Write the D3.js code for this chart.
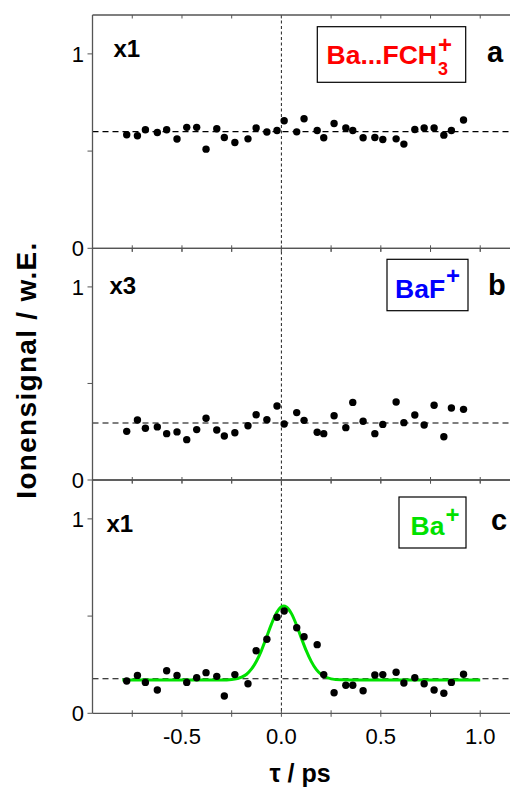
<!DOCTYPE html>
<html>
<head>
<meta charset="utf-8">
<script src="https://cdn.jsdelivr.net/npm/d3@7"></script>
<style>
  html, body { margin: 0; padding: 0; background: #fff; }
  svg { display: block; }
  text { font-family: "Liberation Sans", Arial, Helvetica, sans-serif; }
</style>
</head>
<body>
<svg id="chart" width="510" height="792"></svg>
<script>
// Pump-probe delay (ps), shared by all three ion channels
const tau = [-0.778, -0.724, -0.684, -0.624, -0.577, -0.525, -0.476, -0.426, -0.379, -0.325,
             -0.287, -0.234, -0.168, -0.127, -0.073, -0.022, 0.014, 0.077, 0.114, 0.180,
             0.213, 0.265, 0.324, 0.359, 0.411, 0.470, 0.510, 0.577, 0.616, 0.671,
             0.718, 0.768, 0.817, 0.855, 0.916];

// Ion signal, panel a: Ba...FCH3+ (x1)
const signalA = [0.584, 0.579, 0.610, 0.596, 0.610, 0.562, 0.622, 0.622, 0.510, 0.615,
                 0.570, 0.544, 0.563, 0.619, 0.598, 0.606, 0.656, 0.599, 0.666, 0.606,
                 0.569, 0.642, 0.619, 0.606, 0.569, 0.570, 0.560, 0.563, 0.536, 0.611,
                 0.619, 0.619, 0.582, 0.606, 0.660];

// Ion signal, panel b: BaF+ (x3)
const signalB = [0.252, 0.311, 0.268, 0.275, 0.240, 0.249, 0.209, 0.261, 0.320, 0.259,
                 0.228, 0.245, 0.281, 0.338, 0.312, 0.383, 0.290, 0.349, 0.309, 0.247,
                 0.240, 0.333, 0.271, 0.402, 0.304, 0.240, 0.288, 0.404, 0.297, 0.337,
                 0.285, 0.387, 0.224, 0.373, 0.366];

// Ion signal, panel c: Ba+ (x1)
const signalC = [0.166, 0.195, 0.159, 0.120, 0.219, 0.195, 0.159, 0.183, 0.209, 0.190,
                 0.089, 0.199, 0.152, 0.322, 0.381, 0.494, 0.526, 0.440, 0.394, 0.353,
                 0.199, 0.106, 0.144, 0.144, 0.116, 0.197, 0.199, 0.211, 0.156, 0.183,
                 0.152, 0.120, 0.103, 0.159, 0.201];

// Baseline levels (dashed lines)
const baselines = [0.6, 0.295, 0.178];

// Fitted Ba+ transient (panel c)
const fitTau = [-0.8, -0.4, -0.3, -0.25, -0.2, -0.175, -0.15, -0.125, -0.1, -0.075, -0.05, -0.025,
                0.0, 0.012, 0.025, 0.05, 0.075, 0.1, 0.125, 0.15, 0.175, 0.2, 0.25, 0.3, 0.4, 1.0];
const fitC   = [0.171, 0.171, 0.171, 0.174, 0.186, 0.201, 0.228, 0.269, 0.324, 0.391, 0.459, 0.516,
                0.548, 0.552, 0.547, 0.514, 0.457, 0.388, 0.322, 0.267, 0.226, 0.200, 0.177, 0.172, 0.171, 0.171];

// Axis ticks
const xTicks = [-0.75, -0.5, -0.25, 0, 0.25, 0.5, 0.75, 1.0, 1.25];
const xTickLabels = [-0.5, 0.0, 0.5, 1.0];
const yTicks = [0, 0.5, 1];
const yTickLabels = [0, 1];

// Panel annotations
const scaleFactors = ["x1", "x3", "x1"];
const panelLetters = ["a", "b", "c"];
const speciesMain = ["Ba...FCH", "BaF", "Ba"];
const speciesSub = ["3", "", ""];
const speciesColors = ["#ff0000", "#0000ff", "#00e100"];

const svg = d3.select("#chart");
const axisColor = "#555";

// plain hyphen for negative tick labels
const fmt = d3.formatLocale({ decimal: ".", thousands: ",", grouping: [3], currency: ["", ""], minus: "-" });

const x = d3.scaleLinear().domain([-0.95, 1.2]).range([92.5, 520]);

const panelBounds = [[15, 248.3], [248.3, 480], [480, 713.3]];
const yScales = panelBounds.map(([top, bottom]) =>
  d3.scaleLinear().domain([0, 1.2]).range([bottom, top]));

const seriesList = [signalA, signalB, signalC];

// Layout of per-panel texts
const factorPos = [[113.5, 56.5], [109.5, 294], [106.5, 531.5]];
const letterPos = [[487, 61.5], [488, 295], [491, 530]];
const boxRect = [[317.3, 26.7, 148.4, 55.6], [387, 259.3, 81, 51.4], [399, 497, 67, 51]];
const speciesPos = [[326.5, 64.3], [395, 298.3], [410.5, 535]];
const plusOffset = [-11, -14, -12.5];

const xLeft = x.range()[0];
const xRight = 510;

// Reference line at zero delay across all panels
svg.append("line")
  .attr("x1", x(0)).attr("x2", x(0))
  .attr("y1", panelBounds[0][0]).attr("y2", panelBounds[2][1])
  .attr("stroke", "#222").attr("stroke-width", 1)
  .attr("stroke-dasharray", "3,2.5");

panelBounds.forEach(([top, bottom], i) => {
  const y = yScales[i];
  const g = svg.append("g");

  // dashed baseline
  g.append("line")
    .attr("x1", xLeft).attr("x2", xRight)
    .attr("y1", y(baselines[i])).attr("y2", y(baselines[i]))
    .attr("stroke", "#000").attr("stroke-width", 1.1)
    .attr("stroke-dasharray", "6,4");

  // fit curve for the Ba+ channel
  if (i === 2) {
    const line = d3.line()
      .x((d, k) => x(fitTau[k]))
      .y(d => y(d))
      .curve(d3.curveMonotoneX);
    g.append("path")
      .attr("d", line(fitC))
      .attr("fill", "none")
      .attr("stroke", speciesColors[2])
      .attr("stroke-width", 3);
  }

  // data points
  g.selectAll("circle")
    .data(seriesList[i])
    .join("circle")
    .attr("cx", (d, k) => x(tau[k]))
    .attr("cy", d => y(d))
    .attr("r", 3.7)
    .attr("fill", "#000");

  // frame lines: top and bottom
  [top, bottom].forEach(yy => {
    g.append("line")
      .attr("x1", xLeft).attr("x2", xRight)
      .attr("y1", yy).attr("y2", yy)
      .attr("stroke", axisColor).attr("stroke-width", 1.3);
  });

  // x ticks on top (inward) and bottom edge
  xTicks.forEach(t => {
    g.append("line")
      .attr("x1", x(t)).attr("x2", x(t))
      .attr("y1", top).attr("y2", top + 3.5)
      .attr("stroke", axisColor).attr("stroke-width", 1);
    g.append("line")
      .attr("x1", x(t)).attr("x2", x(t))
      .attr("y1", bottom - 3).attr("y2", bottom + 3.5)
      .attr("stroke", axisColor).attr("stroke-width", 1);
  });

  // y ticks (outward)
  yTicks.forEach(v => {
    g.append("line")
      .attr("x1", xLeft - 5).attr("x2", xLeft)
      .attr("y1", y(v)).attr("y2", y(v))
      .attr("stroke", axisColor).attr("stroke-width", 1);
  });
  yTickLabels.forEach(v => {
    g.append("text")
      .attr("x", 84).attr("y", y(v))
      .attr("dy", "0.36em")
      .attr("text-anchor", "end")
      .attr("font-size", 22)
      .attr("fill", "#000")
      .text(fmt.format("d")(v));
  });

  // scale factor label
  g.append("text")
    .attr("x", factorPos[i][0]).attr("y", factorPos[i][1])
    .attr("font-size", 24).attr("font-weight", "bold")
    .text(scaleFactors[i]);

  // panel letter
  g.append("text")
    .attr("x", letterPos[i][0]).attr("y", letterPos[i][1])
    .attr("font-size", 29).attr("font-weight", "bold")
    .text(panelLetters[i]);

  // species box
  g.append("rect")
    .attr("x", boxRect[i][0]).attr("y", boxRect[i][1])
    .attr("width", boxRect[i][2]).attr("height", boxRect[i][3])
    .attr("fill", "#fff").attr("stroke", "#000").attr("stroke-width", 1.2);

  const main = g.append("text")
    .attr("x", speciesPos[i][0]).attr("y", speciesPos[i][1])
    .attr("font-size", 26.5).attr("font-weight", "bold")
    .attr("fill", speciesColors[i])
    .text(speciesMain[i]);
  const w = main.node().getComputedTextLength();
  const sx = speciesPos[i][0] + w + 1;
  if (speciesSub[i]) {
    g.append("text")
      .attr("x", sx).attr("y", speciesPos[i][1] + 11)
      .attr("font-size", 18).attr("font-weight", "bold")
      .attr("fill", speciesColors[i])
      .text(speciesSub[i]);
  }
  g.append("text")
    .attr("x", sx).attr("y", speciesPos[i][1] + plusOffset[i])
    .attr("font-size", 24).attr("font-weight", "bold")
    .attr("fill", speciesColors[i])
    .text("+");
});

// left axis line across all panels
svg.append("line")
  .attr("x1", xLeft).attr("x2", xLeft)
  .attr("y1", panelBounds[0][0]).attr("y2", panelBounds[2][1])
  .attr("stroke", axisColor).attr("stroke-width", 1.3);

// x tick labels under the bottom panel
xTickLabels.forEach(t => {
  svg.append("text")
    .attr("x", x(t)).attr("y", 744)
    .attr("text-anchor", "middle")
    .attr("font-size", 22)
    .text(fmt.format(".1f")(t));
});

// axis titles
svg.append("text")
  .attr("x", 300).attr("y", 782)
  .attr("text-anchor", "middle")
  .attr("font-size", 25).attr("font-weight", "bold")
  .text("τ / ps");

svg.append("text")
  .attr("transform", "translate(36,370) rotate(-90)")
  .attr("text-anchor", "middle")
  .attr("font-size", 28).attr("font-weight", "bold")
  .attr("letter-spacing", 1.3)
  .text("Ionensignal / w.E.");
</script>
</body>
</html>
